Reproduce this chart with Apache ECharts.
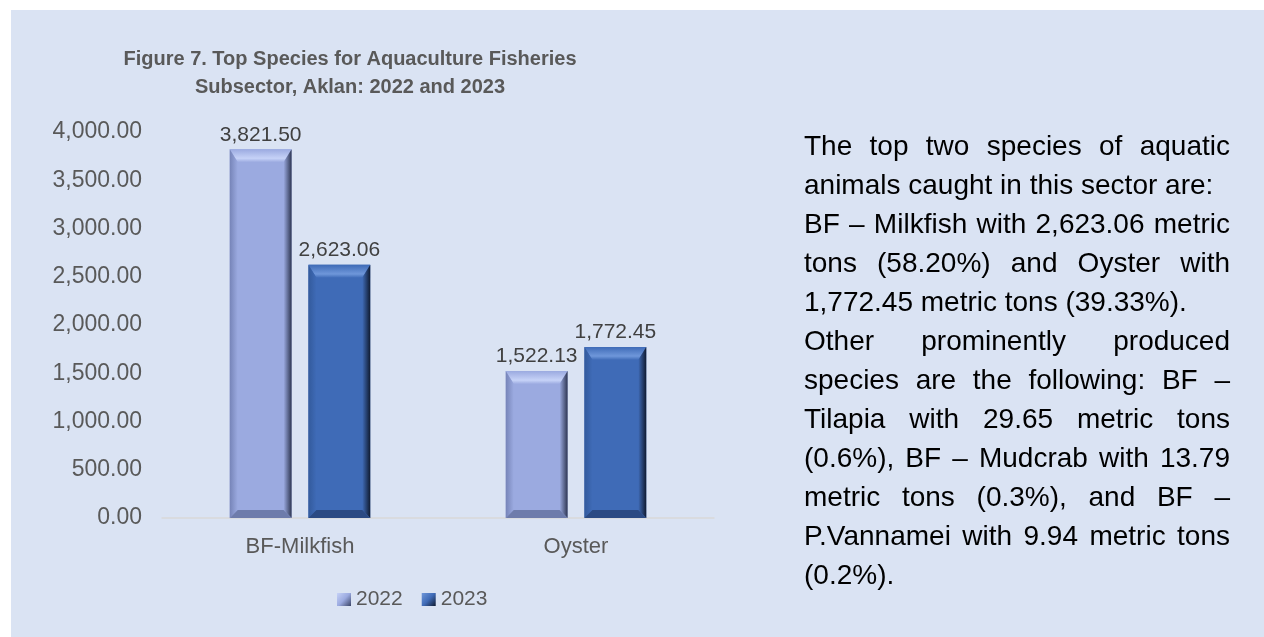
<!DOCTYPE html>
<html>
<head>
<meta charset="utf-8">
<script src="https://cdn.jsdelivr.net/npm/echarts@6/dist/echarts.min.js"></script>
<style>
  html, body { margin: 0; padding: 0; background: #ffffff; }
  #panel { position: absolute; left: 11px; top: 10px; width: 1253px; height: 627px; background: #DAE3F3; }
  #chart { position: absolute; left: 0; top: 0; width: 1264px; height: 637px; }
  #note { position: absolute; left: 804px; top: 126px; width: 426px;
          font-family: 'Liberation Sans', Arial, sans-serif; font-size: 28px; line-height: 39px; color: #000; }
  #note div { white-space: nowrap; }
  #note .j { text-align: justify; text-align-last: justify; white-space: normal; }
</style>
</head>
<body>
<div id="panel"></div>
<div id="chart"></div>
<div id="note">
  <div class="j">The top two species of aquatic</div>
  <div>animals caught in this sector are:</div>
  <div class="j">BF – Milkfish with 2,623.06 metric</div>
  <div class="j">tons (58.20%) and Oyster with</div>
  <div>1,772.45 metric tons (39.33%).</div>
  <div class="j">Other prominently produced</div>
  <div class="j">species are the following: BF –</div>
  <div class="j">Tilapia with 29.65 metric tons</div>
  <div class="j">(0.6%), BF – Mudcrab with 13.79</div>
  <div class="j">metric tons (0.3%), and BF –</div>
  <div class="j">P.Vannamei with 9.94 metric tons</div>
  <div>(0.2%).</div>
</div>
<script>
// 数据
var categories = ['BF-Milkfish', 'Oyster'];
var years = ['2022', '2023'];
var values2022 = [3821.50, 1522.13];
var values2023 = [2623.06, 1772.45];
var yMin = 0, yMax = 4000, yStep = 500;

var FONT = "'Liberation Sans', Arial, sans-serif";

// 两个年份的斜面配色
var palettes = [
  { face: '#9BAAE0', left: '#7684B8', right: '#2E3652', top: '#C6D2F7', bottom: '#6E7CAB' },
  { face: '#3F6BB7', left: '#335A9C', right: '#101B31', top: '#6F97DA', bottom: '#2B4A83' }
];

function fmt(v) {
  return v.toLocaleString('en-US', { minimumFractionDigits: 2, maximumFractionDigits: 2 });
}

function renderBevelBar(params, api) {
  var pal = palettes[params.seriesIndex];
  var cat = api.value(0), val = api.value(1);
  var base = api.coord([cat, 0]);
  var top = api.coord([cat, val]);
  var band = api.size([1, 0])[0];
  var bw = band * 0.224;
  var gap = band * 0.061;
  var x0 = params.seriesIndex === 0 ? base[0] - gap / 2 - bw : base[0] + gap / 2;
  var x1 = x0 + bw;
  var yT = top[1], yB = base[1];
  var b = 8, bt = 13;
  return {
    type: 'group',
    children: [
      { type: 'rect', shape: { x: x0, y: yT, width: bw, height: yB - yT }, style: { fill: pal.face } },
      { type: 'polygon', shape: { points: [[x0, yT], [x1, yT], [x1 - b, yT + bt], [x0 + b, yT + bt]] },
        style: { fill: new echarts.graphic.LinearGradient(0, 0, 0, 1, [
          { offset: 0, color: pal.face }, { offset: 0.7, color: pal.top }, { offset: 1, color: pal.face }]) } },
      { type: 'polygon', shape: { points: [[x0, yT], [x0 + b, yT + bt], [x0 + b, yB - b], [x0, yB]] },
        style: { fill: new echarts.graphic.LinearGradient(0, 0, 1, 0, [
          { offset: 0, color: pal.left }, { offset: 1, color: pal.face }]) } },
      { type: 'polygon', shape: { points: [[x1, yT], [x1, yB], [x1 - b, yB - b], [x1 - b, yT + bt]] },
        style: { fill: new echarts.graphic.LinearGradient(0, 0, 1, 0, [
          { offset: 0, color: pal.face }, { offset: 1, color: pal.right }]) } },
      { type: 'polygon', shape: { points: [[x0, yB], [x0 + b, yB - b], [x1 - b, yB - b], [x1, yB]] },
        style: { fill: pal.bottom } },
      { type: 'text', x: (x0 + x1) / 2, y: yT - 4,
        style: { text: fmt(val), align: 'center', verticalAlign: 'bottom',
                 fill: '#404040', font: '21px ' + FONT } }
    ]
  };
}

function toPairs(arr) {
  return arr.map(function (v, i) { return [i, v]; });
}

var chartDom = document.getElementById('chart');
var myChart = echarts.init(chartDom);

var option = {
  backgroundColor: 'transparent',
  animation: false,
  title: {
    text: 'Figure 7. Top Species for Aquaculture Fisheries\nSubsector, Aklan: 2022 and 2023',
    left: 350,
    top: 45,
    padding: 0,
    textAlign: 'center',
    textStyle: { fontFamily: FONT, fontSize: 20, fontWeight: 'bold', color: '#595959', lineHeight: 28 }
  },
  grid: { left: 162, right: 550, top: 132, bottom: 119, containLabel: false },
  legend: {
    left: 337,
    top: 589,
    padding: 0,
    itemWidth: 14,
    itemHeight: 13,
    itemGap: 19,
    textStyle: { fontFamily: FONT, fontSize: 21, color: '#595959', padding: [0, 0, 0, 0] },
    data: [
      { name: years[0], icon: 'rect', itemStyle: { color: new echarts.graphic.LinearGradient(0, 0, 1, 1, [
        { offset: 0, color: '#C6D2F7' }, { offset: 0.5, color: '#9BAAE0' }, { offset: 1, color: '#3A4466' }]) } },
      { name: years[1], icon: 'rect', itemStyle: { color: new echarts.graphic.LinearGradient(0, 0, 1, 1, [
        { offset: 0, color: '#6F97DA' }, { offset: 0.5, color: '#3F6BB7' }, { offset: 1, color: '#101B31' }]) } }
    ]
  },
  xAxis: {
    type: 'category',
    data: categories,
    axisLine: { show: true, lineStyle: { color: '#D9D9D9', width: 1.5 } },
    axisTick: { show: false },
    axisLabel: { fontFamily: FONT, fontSize: 22, color: '#595959', margin: 18 }
  },
  yAxis: {
    type: 'value',
    min: yMin,
    max: yMax,
    interval: yStep,
    axisLine: { show: false },
    axisTick: { show: false },
    splitLine: { show: false },
    axisLabel: { fontFamily: FONT, fontSize: 23, color: '#595959', margin: 20,
                 formatter: function (v) { return fmt(v); } }
  },
  series: [
    { name: years[0], type: 'custom', renderItem: renderBevelBar, encode: { x: 0, y: 1 },
      itemStyle: { color: palettes[0].face }, data: toPairs(values2022) },
    { name: years[1], type: 'custom', renderItem: renderBevelBar, encode: { x: 0, y: 1 },
      itemStyle: { color: palettes[1].face }, data: toPairs(values2023) }
  ]
};

myChart.setOption(option);
window.addEventListener('resize', function () {
  myChart.resize();
});
</script>
</body>
</html>
